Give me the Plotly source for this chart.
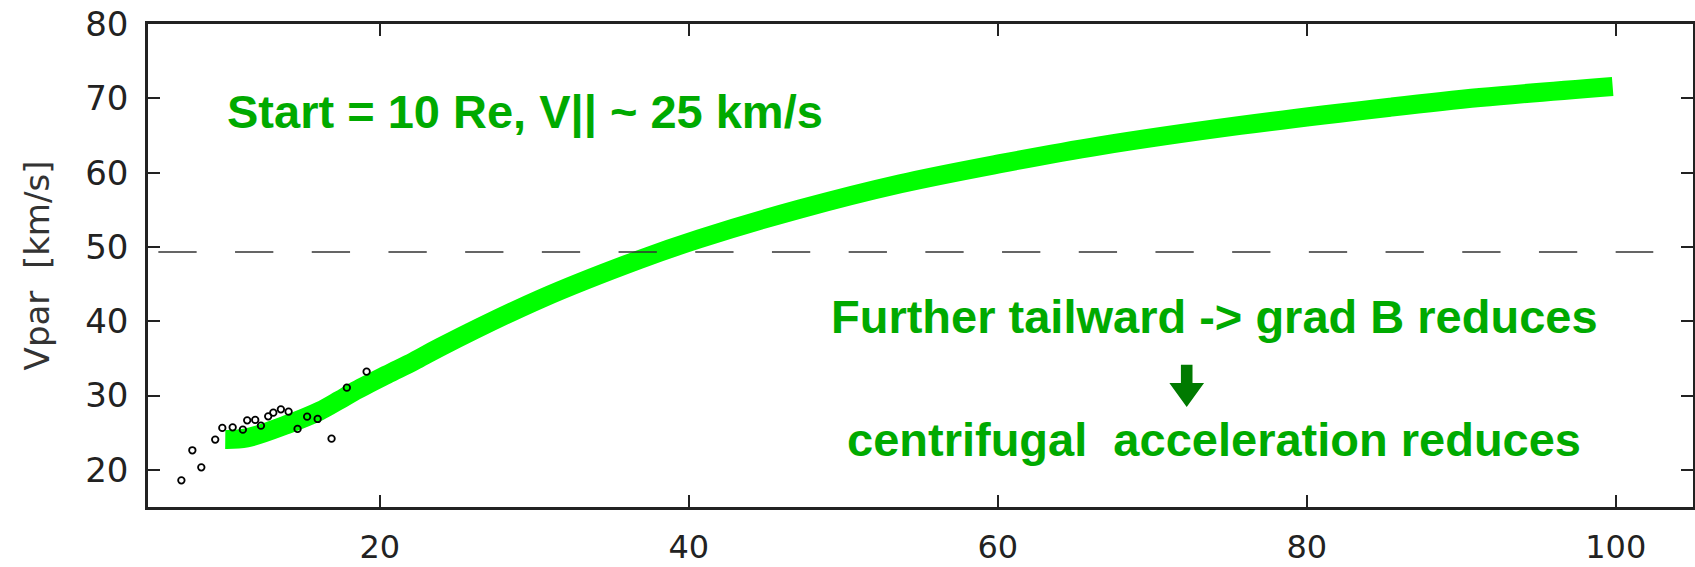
import plotly.graph_objects as go

# ---- data ----
curve_x = [10.0, 11.4, 14.0, 16.1, 17.4, 18.3, 20.45, 22.2, 23.9, 30.4, 36.8, 40.7,
           47.2, 53.7, 60.15, 66.6, 75.7, 85.4, 91.2, 99.8]
curve_y = [24.1, 24.3, 26.1, 27.9, 29.4, 30.5, 32.8, 34.6, 36.5, 43.0, 48.3, 51.1,
           55.1, 58.5, 61.2, 63.6, 66.35, 68.8, 70.1, 71.6]

obs_x = [7.16, 7.87, 8.45, 9.35, 9.81, 10.48, 11.14, 11.42, 11.94, 12.31, 12.78,
         13.11, 13.6, 14.1, 14.68, 15.3, 15.98, 16.88, 17.87, 19.15]
obs_y = [18.59, 22.63, 20.34, 24.07, 25.64, 25.72, 25.41, 26.66, 26.72, 25.95, 27.2,
         27.7, 28.14, 27.83, 25.51, 27.16, 26.85, 24.2, 31.06, 33.21]

x_ticks = [20, 40, 60, 80, 100]
y_ticks = [20, 30, 40, 50, 60, 70, 80]
x_range = [5, 105]
y_range = [15, 80]

ref_level = 49.3
ref_x_start = 5.67
ref_x_end = 102.43

title_y = "Vpar  [km/s]"
note_start = "Start = 10 Re, V|| ~ 25 km/s"
note_grad = "Further tailward -> grad B reduces"
note_centri = "centrifugal  acceleration reduces"

GREEN_TXT = "#00aa00"
AXIS_COL = "#222222"

fig = go.Figure()

fig.add_trace(go.Scatter(
    x=curve_x, y=curve_y, mode="lines",
    line=dict(color="#00ff00", width=19, shape="spline", smoothing=1.0),
    hoverinfo="skip", showlegend=False))

fig.add_trace(go.Scatter(
    x=obs_x, y=obs_y, mode="markers",
    marker=dict(symbol="circle-open", size=6.5, color="black", line=dict(width=1.8)),
    showlegend=False))

fig.add_shape(type="line", xref="x", yref="y",
              x0=ref_x_start, x1=ref_x_end, y0=ref_level, y1=ref_level,
              line=dict(color="#333333", width=1.5, dash="38.3px,38.4px"))

# arrow (dark green block arrow)
ax_tip, ay_tip = 72.23, 28.47
hw_shaft, hw_head = 0.375, 1.123
ay_head, ay_top = 31.69, 34.16
arrow_path = (f"M {ax_tip-hw_shaft},{ay_top} L {ax_tip+hw_shaft},{ay_top} "
              f"L {ax_tip+hw_shaft},{ay_head} L {ax_tip+hw_head},{ay_head} "
              f"L {ax_tip},{ay_tip} L {ax_tip-hw_head},{ay_head} "
              f"L {ax_tip-hw_shaft},{ay_head} Z")
fig.add_shape(type="path", xref="x", yref="y", path=arrow_path,
              fillcolor="#007a00", line=dict(width=0))

txt_font = dict(family="Liberation Sans, Arial, sans-serif", size=47, color=GREEN_TXT)
for text, x, y in [(note_start, 29.4, 68.2), (note_grad, 74.03, 40.6),
                   (note_centri, 73.98, 24.1)]:
    fig.add_annotation(x=x, y=y, xref="x", yref="y", text=f"<b>{text}</b>",
                       showarrow=False, xanchor="center", yanchor="middle",
                       font=txt_font)

fig.update_xaxes(
    range=x_range, tickvals=x_ticks, ticks="inside", ticklen=12, tickwidth=2,
    tickcolor=AXIS_COL, showline=True, linewidth=2.5, linecolor=AXIS_COL,
    mirror="ticks", showgrid=False, zeroline=False, automargin=False,
    tickfont=dict(family="DejaVu Sans", size=32, color=AXIS_COL),
    ticklabelstandoff=10)

fig.update_yaxes(
    range=y_range, tickvals=y_ticks, ticks="inside", ticklen=12, tickwidth=2,
    tickcolor=AXIS_COL, showline=True, linewidth=2.5, linecolor=AXIS_COL,
    mirror="ticks", showgrid=False, zeroline=False, automargin=False,
    tickfont=dict(family="DejaVu Sans", size=34, color=AXIS_COL),
    ticklabelstandoff=10,
    title=dict(text=title_y, font=dict(family="DejaVu Sans", size=34, color="#333333"),
               standoff=26))

fig.update_layout(
    width=1695, height=567,
    margin=dict(l=148, r=2, t=24, b=60),
    paper_bgcolor="white", plot_bgcolor="white",
    showlegend=False)

fig.write_html("out.html")
